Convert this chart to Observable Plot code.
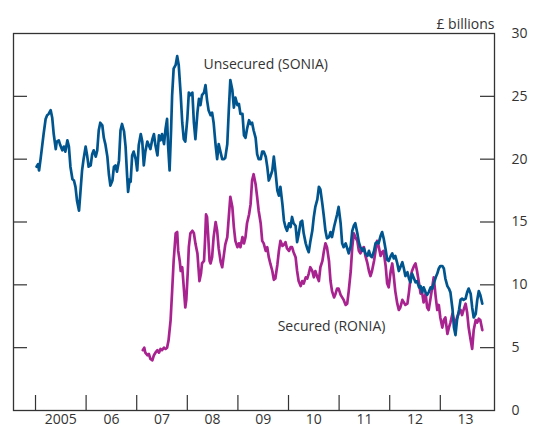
<!DOCTYPE html>
<html>
<head>
<meta charset="utf-8">
<script src="https://cdn.jsdelivr.net/npm/d3@7"></script>
<script src="https://cdn.jsdelivr.net/npm/@observablehq/plot@0.6"></script>
<style>
  html, body { margin: 0; padding: 0; background: #fff; }
  #chart { width: 533px; height: 433px; }
</style>
</head>
<body>
<div id="chart"></div>
<script>
// ---- Data (decimal years, £ billions) ----
const soniaDates = [
2005.02,2005.05,2005.07,2005.10,2005.13,2005.16,2005.20,2005.23,2005.26,2005.30,2005.33,2005.36,2005.40,2005.42,2005.46,2005.49,2005.53,2005.56,2005.59,2005.63,2005.66,2005.69,2005.73,2005.76,2005.79,2005.82,2005.86,2005.89,2005.92,2005.95,2005.99,
2006.02,2006.05,2006.09,2006.12,2006.15,2006.19,2006.22,2006.25,2006.28,2006.32,2006.35,2006.38,2006.42,2006.45,2006.48,2006.52,2006.55,2006.58,2006.61,2006.65,2006.68,2006.71,2006.75,2006.78,2006.81,2006.83,2006.86,2006.88,2006.91,2006.94,2006.98,
2007.01,2007.04,2007.08,2007.11,2007.14,2007.17,2007.21,2007.24,2007.27,2007.31,2007.34,2007.37,2007.41,2007.44,2007.47,2007.50,2007.54,2007.57,2007.60,2007.62,2007.65,2007.68,2007.70,2007.73,2007.77,2007.80,2007.83,2007.87,2007.90,2007.93,2007.96,
2008.00,2008.03,2008.06,2008.10,2008.13,2008.16,2008.20,2008.23,2008.26,2008.29,2008.33,2008.36,2008.39,2008.42,2008.46,2008.49,2008.52,2008.56,2008.59,2008.62,2008.66,2008.69,2008.72,2008.75,2008.79,2008.82,2008.85,2008.89,2008.92,2008.95,2008.99,
2009.02,2009.05,2009.09,2009.12,2009.15,2009.18,2009.22,2009.25,2009.28,2009.31,2009.35,2009.38,2009.41,2009.45,2009.48,2009.51,2009.55,2009.58,2009.61,2009.64,2009.68,2009.71,2009.74,2009.78,2009.81,2009.84,2009.88,2009.91,2009.94,2009.97,
2010.01,2010.04,2010.07,2010.10,2010.14,2010.17,2010.20,2010.24,2010.27,2010.30,2010.34,2010.37,2010.40,2010.43,2010.47,2010.50,2010.53,2010.57,2010.60,2010.63,2010.67,2010.70,2010.73,2010.76,2010.80,2010.83,2010.86,2010.90,2010.93,2010.96,2010.99,
2011.03,2011.06,2011.09,2011.13,2011.16,2011.19,2011.23,2011.26,2011.29,2011.32,2011.36,2011.39,2011.42,2011.46,2011.49,2011.52,2011.56,2011.59,2011.62,2011.65,2011.69,2011.72,2011.75,2011.78,2011.82,2011.85,2011.88,2011.92,2011.95,2011.98,
2012.02,2012.05,2012.08,2012.11,2012.15,2012.18,2012.21,2012.25,2012.28,2012.31,2012.35,2012.38,2012.41,2012.44,2012.48,2012.51,2012.54,2012.58,2012.61,2012.64,2012.67,2012.71,2012.74,2012.77,2012.81,2012.84,2012.87,2012.91,2012.94,2012.97,
2013.00,2013.04,2013.07,2013.10,2013.14,2013.17,2013.20,2013.24,2013.27,2013.30,2013.33,2013.37,2013.40,2013.43,2013.46,2013.50,2013.53,2013.56,2013.60,2013.63,2013.66,2013.70,2013.73,2013.76,2013.79,2013.83
];
const soniaValues = [
19.4,19.6,19.1,20.0,21.0,22.0,23.2,23.5,23.6,23.9,23.3,22.0,20.8,21.4,21.5,21.1,20.7,21.0,20.6,21.5,21.0,19.4,18.4,18.3,17.8,16.7,15.9,17.5,19.1,20.0,21.0,
20.3,19.4,19.5,20.4,20.7,20.2,20.7,22.3,22.9,22.7,21.7,21.2,20.2,18.8,17.9,18.3,19.4,19.5,19.0,19.9,22.3,22.8,22.2,21.0,18.7,17.4,18.4,18.2,20.3,20.6,20.0,
19.1,21.1,22.0,21.4,19.5,20.6,21.4,21.1,20.8,21.6,22.0,21.1,20.3,21.9,21.5,22.0,21.2,22.4,23.2,21.1,19.1,22.4,25.1,27.2,27.5,28.2,27.5,25.1,22.9,21.6,21.4,
23.2,25.3,25.1,25.3,22.9,21.6,23.7,24.8,24.3,25.1,25.3,25.9,24.7,23.9,23.5,23.7,22.9,21.1,20.0,21.2,20.5,20.0,20.0,20.1,21.2,23.9,26.3,25.5,24.1,24.9,24.3,
24.4,23.6,23.6,21.9,21.7,22.4,23.1,22.8,22.9,22.3,21.7,20.4,20.0,20.0,20.6,20.6,20.2,19.4,18.3,18.6,19.1,20.2,19.1,17.5,17.1,17.8,16.4,15.1,14.6,14.3,
14.9,14.6,15.4,14.9,14.7,13.4,14.0,15.0,15.1,14.1,13.3,12.9,12.6,13.4,14.3,15.4,16.2,16.8,17.8,17.6,16.4,15.4,14.3,13.7,13.8,14.2,13.8,14.6,15.1,15.6,16.2,
14.9,13.3,13.0,13.3,12.9,12.5,13.1,14.3,14.7,14.9,14.1,13.4,13.0,12.7,12.9,12.5,12.3,12.7,12.3,12.2,12.7,13.3,13.4,13.3,13.9,14.2,13.7,12.8,12.0,11.9,
12.3,12.5,12.1,12.3,11.7,11.1,11.4,11.8,11.3,10.7,11.0,10.5,10.2,10.9,10.5,10.2,10.3,9.8,9.9,9.4,9.8,9.4,9.2,9.4,9.8,9.7,10.1,10.6,10.9,11.3,
11.5,11.5,11.3,10.5,9.9,9.7,9.4,8.1,6.6,6.0,7.2,8.0,8.8,8.9,8.8,8.9,9.4,9.7,9.3,8.2,7.4,7.7,8.8,9.5,9.2,8.5
];
const roniaDates = [
2007.12,2007.15,2007.17,2007.21,2007.24,2007.27,2007.31,2007.34,2007.37,2007.41,2007.44,2007.47,2007.50,2007.54,2007.57,2007.60,2007.63,2007.67,2007.70,2007.73,2007.77,2007.80,2007.82,2007.85,2007.87,2007.90,2007.93,2007.96,2007.98,
2008.01,2008.03,2008.06,2008.10,2008.13,2008.16,2008.20,2008.22,2008.24,2008.27,2008.29,2008.33,2008.35,2008.37,2008.39,2008.41,2008.44,2008.46,2008.49,2008.52,2008.56,2008.59,2008.62,2008.66,2008.69,2008.72,2008.75,2008.79,2008.82,2008.85,2008.89,2008.92,2008.95,2008.99,
2009.02,2009.05,2009.09,2009.12,2009.15,2009.18,2009.22,2009.25,2009.28,2009.31,2009.35,2009.38,2009.41,2009.45,2009.48,2009.51,2009.55,2009.58,2009.61,2009.64,2009.68,2009.71,2009.74,2009.78,2009.81,2009.84,2009.88,2009.91,2009.94,2009.97,
2010.01,2010.04,2010.07,2010.10,2010.14,2010.17,2010.20,2010.24,2010.27,2010.30,2010.34,2010.37,2010.40,2010.43,2010.47,2010.50,2010.53,2010.57,2010.60,2010.63,2010.67,2010.70,2010.73,2010.76,2010.80,2010.83,2010.86,2010.90,2010.93,2010.96,2010.99,
2011.03,2011.06,2011.09,2011.13,2011.16,2011.19,2011.23,2011.26,2011.29,2011.32,2011.36,2011.39,2011.42,2011.46,2011.49,2011.52,2011.56,2011.59,2011.62,2011.65,2011.69,2011.72,2011.75,2011.78,2011.82,2011.85,2011.88,2011.92,2011.95,2011.98,
2012.02,2012.05,2012.08,2012.11,2012.15,2012.18,2012.21,2012.25,2012.28,2012.31,2012.35,2012.38,2012.41,2012.44,2012.48,2012.51,2012.54,2012.58,2012.61,2012.64,2012.67,2012.71,2012.74,2012.77,2012.81,2012.84,2012.87,2012.91,2012.94,2012.97,
2013.00,2013.04,2013.07,2013.10,2013.14,2013.17,2013.20,2013.24,2013.27,2013.30,2013.33,2013.37,2013.40,2013.43,2013.46,2013.50,2013.53,2013.56,2013.60,2013.63,2013.66,2013.70,2013.73,2013.76,2013.79,2013.83
];
const roniaValues = [
4.8,5.0,4.6,4.4,4.5,4.1,4.0,4.4,4.6,4.8,4.6,4.9,4.8,5.0,4.9,5.0,5.6,7.2,9.5,11.9,14.1,14.2,12.7,11.9,11.1,11.4,9.8,8.2,8.8,
11.1,13.0,14.1,14.3,14.1,13.3,12.5,11.4,10.3,10.9,11.7,11.9,13.5,15.6,15.4,14.1,11.9,11.7,12.2,13.8,15.0,14.3,12.9,11.8,11.4,12.3,13.2,13.8,15.4,17.0,16.2,14.6,13.5,13.0,
13.3,13.0,13.8,13.3,13.8,14.9,15.6,16.4,18.3,18.8,18.0,17.0,15.9,14.9,13.5,13.3,12.7,13.0,12.2,11.7,11.1,10.4,10.5,11.6,12.7,13.5,13.1,13.2,13.4,12.9,
12.7,13.0,13.0,12.6,12.2,11.1,10.3,9.9,10.3,10.1,10.6,10.5,10.9,11.4,11.1,10.6,11.1,10.6,10.3,11.4,11.9,12.7,13.3,13.0,11.9,10.3,9.5,9.0,9.3,9.7,9.7,
9.2,9.0,8.8,8.4,8.5,9.5,11.1,13.0,14.1,13.8,13.5,12.7,12.5,12.9,13.0,12.3,11.7,11.1,10.7,11.1,11.9,12.7,13.5,13.1,12.3,12.6,12.7,11.5,10.1,9.8,
11.1,11.7,10.7,9.5,8.5,8.0,8.2,8.8,8.6,8.4,8.5,9.4,10.5,11.1,11.5,11.7,11.1,10.1,9.3,9.4,8.6,9.3,8.2,8.0,9.0,9.8,10.6,9.0,8.0,8.4,
7.4,6.6,7.2,7.4,6.1,6.6,7.0,7.7,7.2,6.9,7.4,7.8,8.0,7.6,8.0,8.5,7.8,6.6,5.6,4.9,6.4,7.2,7.0,7.3,7.2,6.4
];
const yearTicks = [2005, 2006, 2007, 2008, 2009, 2010, 2011, 2012, 2013];
const yearLabels = ["2005", "06", "07", "08", "09", "10", "11", "12", "13"];
const valueTicks = [0, 5, 10, 15, 20, 25, 30];
const seriesNames = ["Unsecured (SONIA)", "Secured (RONIA)"];
const seriesLabelX = [2009.55, 2010.85];
const seriesLabelY = [27.5, 6.7];
const unitLabel = "£ billions";

// ---- Build tables ----
const sonia = soniaDates.map((d, i) => ({year: d, value: soniaValues[i]}));
const ronia = roniaDates.map((d, i) => ({year: d, value: roniaValues[i]}));
const labels = seriesNames.map((n, i) => ({name: n, x: seriesLabelX[i], y: seriesLabelY[i]}));
const yearMids = yearTicks.map(y => y + 0.5);
const innerTicks = valueTicks.filter(v => v > 0 && v < 30);

const BLUE = "#00558f";
const MAGENTA = "#a8238f";
const INK = "#333333";
const FONT = "'Open Sans', 'Noto Sans', sans-serif";

const chart = Plot.plot({
  width: 533,
  height: 433,
  marginTop: 33,
  marginBottom: 23,
  marginLeft: 13,
  marginRight: 39,
  style: {fontFamily: FONT, fontSize: "14px", color: INK, background: "#fff"},
  x: {domain: [2004.565, 2014.071]},
  y: {domain: [0, 30]},
  marks: [
    // tick marks inside the frame
    Plot.tickY(innerTicks, {y: d => d, insetRight: 467, stroke: INK, strokeWidth: 1.2}),
    Plot.tickY(innerTicks, {y: d => d, insetLeft: 467, stroke: INK, strokeWidth: 1.2}),
    Plot.tickX(yearTicks, {x: d => d, insetTop: 362, stroke: INK, strokeWidth: 1.2}),
    // axes labels
    Plot.axisY({anchor: "right", ticks: valueTicks, tickSize: 0, tickPadding: 17, fontSize: 14, fill: INK}),
    Plot.axisX({anchor: "bottom", ticks: yearMids, tickSize: 0, tickPadding: 4, fontSize: 14, fill: INK,
      tickFormat: (d) => yearLabels[yearMids.indexOf(d)]}),
    // series
    Plot.line(ronia, {x: "year", y: "value", stroke: MAGENTA, strokeWidth: 2.7, curve: "linear"}),
    Plot.line(sonia, {x: "year", y: "value", stroke: BLUE, strokeWidth: 2.7, curve: "linear"}),
    // series annotations
    Plot.text(labels, {x: "x", y: "y", text: "name", fontSize: 14, fill: INK}),
    // unit label
    Plot.text([unitLabel], {frameAnchor: "top-right", dy: -14, textAnchor: "end", fontSize: 14, fill: INK}),
    Plot.frame({stroke: INK, strokeWidth: 1.3})
  ]
});
document.getElementById("chart").appendChild(chart);
</script>
</body>
</html>
